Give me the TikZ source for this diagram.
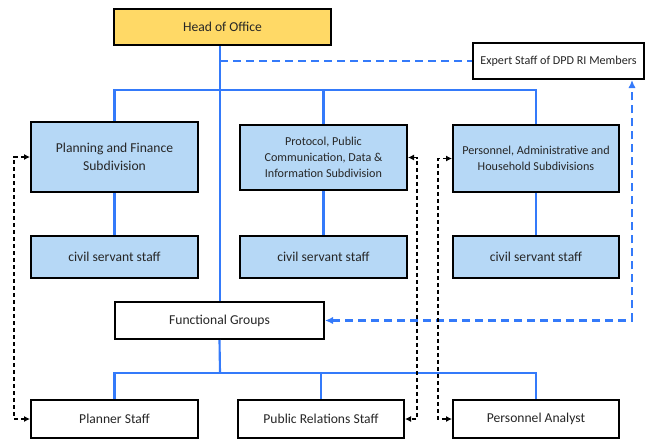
\documentclass[tikz,border=0pt]{standalone}
\usepackage{fontspec}
\setmainfont{Carlito}
\usepackage{tikz}
\usetikzlibrary{arrows.meta}

\definecolor{headyellow}{RGB}{255,217,102}
\definecolor{subblue}{RGB}{182,216,246}
\definecolor{lineblue}{RGB}{52,122,250}
\definecolor{textgray}{RGB}{38,38,38}

\begin{document}
\begin{tikzpicture}[x=0.75pt,y=0.75pt,yscale=-1,xscale=1,
		box/.style={draw=black,line width=1.5pt,text=textgray,inner sep=0.75pt,align=center,font=\fontsize{10.2}{13.3}\selectfont},
		subbox/.style={box,fill=subblue},
		smalltext/.style={font=\fontsize{9.1}{12}\selectfont},
		tree/.style={draw=lineblue,line width=1.6pt},
		linkblue/.style={draw=lineblue,line width=1.8pt,dash pattern=on 6pt off 3.75pt},
		linkblack/.style={draw=black,line width=0.8pt,dash pattern=on 3pt off 2.25pt,{Latex[length=4.5pt,width=4.5pt]}-{Latex[length=4.5pt,width=4.5pt]}}]
			\path[use as bounding box] (0,0) rectangle (653,439);

			%Shape: Rectangle
			\path (222.5,27) node [box,fill=headyellow,minimum width=162.75pt,minimum height=27pt] (head) {Head of Office};
			%Shape: Rectangle
			\path (558.5,61) node [box,smalltext,fill=white,minimum width=128.25pt,minimum height=27pt] (expert) {Expert Staff of DPD RI Members};

			%Shape: Rectangle
			\path (114.5,157) node [subbox,minimum width=125.25pt,minimum height=52.5pt] (plan) {Planning and Finance\\Subdivision};
			%Shape: Rectangle
			\path (323.5,157.5) node [subbox,smalltext,minimum width=125.25pt,minimum height=48.75pt] (proto) {Protocol, Public\\Communication, Data \&\\Information Subdivision};
			%Shape: Rectangle
			\path (536,158.5) node [subbox,smalltext,minimum width=124.5pt,minimum height=50.25pt] (pers) {Personnel, Administrative and\\Household Subdivisions};

			%Shape: Rectangle
			\path (114.5,257) node [subbox,minimum width=125.25pt,minimum height=31.5pt] (civA) {civil servant staff};
			%Shape: Rectangle
			\path (323.5,257) node [subbox,minimum width=125.25pt,minimum height=31.5pt] (civB) {civil servant staff};
			%Shape: Rectangle
			\path (536,257) node [subbox,minimum width=124.5pt,minimum height=31.5pt] (civC) {civil servant staff};

			%Shape: Rectangle
			\path (219.5,320.5) node [box,fill=white,minimum width=156.75pt,minimum height=27.75pt] (func) {Functional Groups};

			%Shape: Rectangle
			\path (114.5,419) node [box,fill=white,minimum width=125.25pt,minimum height=28.5pt] (planner) {Planner Staff};
			%Shape: Rectangle
			\path (321,419) node [box,fill=white,minimum width=124.5pt,minimum height=28.5pt] (relations) {Public Relations Staff};
			%Shape: Rectangle
			\path (536,419) node [box,fill=white,minimum width=124.5pt,minimum height=28.5pt] (analyst) {Personnel Analyst};

			\coordinate (busTop) at (220,90);
			\coordinate (busLow) at (220,373);
			\coordinate (turnBlue) at (632,320.5);
			\coordinate (sideA) at (14,300);
			\coordinate (sideB) at (417,300);
			\coordinate (sideC) at (438,300);

			%Straight Lines
			\draw [tree] (head.south -| busTop) -- (func.north -| busTop) ;
			%Straight Lines
			\draw [tree] (plan.north) |- (busTop) -| (pers.north) ;
			\draw [tree] (proto.north) -- (proto.north |- busTop) ;
			%Straight Lines
			\draw [tree] (plan.south) -- (civA.north) ;
			\draw [tree] (proto.south) -- (civB.north) ;
			\draw [tree] (pers.south) -- (civC.north) ;
			%Straight Lines
			\draw [tree] (func.south) -- (busLow) ;
			\draw [tree] (planner.north) |- (busLow) -| (analyst.north) ;
			\draw [tree] (relations.north) -- (relations.north |- busLow) ;

			%Dashed Lines
			\draw [linkblue] (busTop |- expert.west) -- (expert.west) ;
			\draw [linkblue,{Latex[length=6pt,width=5.5pt]}-{Latex[length=6pt,width=5.5pt]}] (func.east) -- (turnBlue) -- (turnBlue |- expert.south) ;

			%Dashed Lines
			\draw [linkblack] (plan.west) -| (sideA) |- (planner.west) ;
			\draw [linkblack] (proto.east) -| (sideB) |- (relations.east) ;
			\draw [linkblack] (pers.west) -| (sideC) |- (analyst.west) ;

		\end{tikzpicture}
\end{document}
